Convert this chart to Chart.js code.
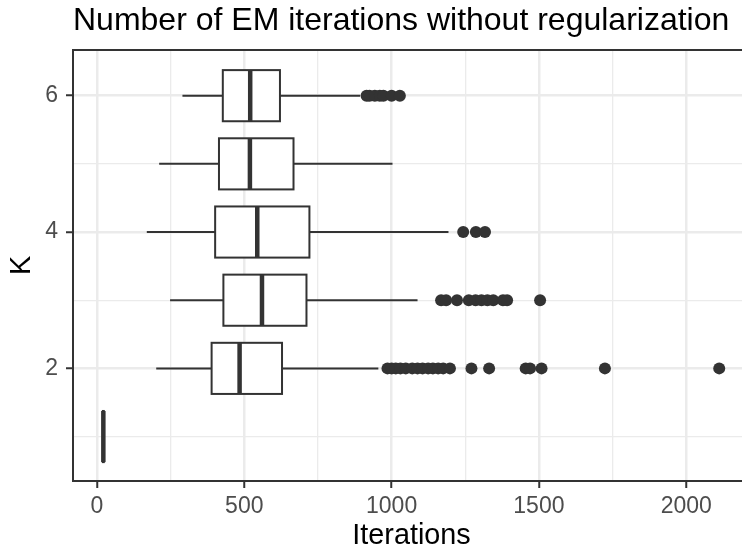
<!DOCTYPE html>
<html>
<head>
<meta charset="utf-8">
<script src="https://cdn.jsdelivr.net/npm/chart.js@4/dist/chart.umd.min.js"></script>
<style>
  html, body { margin: 0; padding: 0; background: #fff; }
  #wrap { width: 742px; height: 550px; overflow: hidden; }
</style>
</head>
<body>
<div id="wrap"><canvas id="grafico" width="760" height="550"></canvas></div>
<script>
// valores (K no eixo y, iteracoes no eixo x)
const kValues = [1, 2, 3, 4, 5, 6];
const whiskerLow = [20, 201, 248, 169, 211, 290];
const q1 = [20, 389, 429, 401, 414, 427];
const median = [21.5, 484, 560, 544, 519, 520];
const q3 = [23, 628, 711, 721, 667, 621];
const whiskerHigh = [23, 955, 1088, 1193, 1003, 893];

const outliersK2 = [986, 1000, 1014, 1030, 1048, 1070, 1088, 1105, 1124, 1140, 1158, 1175, 1198, 1271, 1331, 1455, 1470, 1509, 1724, 2112];
const outliersK3 = [1168, 1185, 1222, 1262, 1285, 1305, 1325, 1345, 1378, 1392, 1504];
const outliersK4 = [1243, 1286, 1317];
const outliersK6 = [915, 925, 943, 960, 972, 1000, 1028];

const xTicks = [0, 250, 500, 750, 1000, 1250, 1500, 1750, 2000];
const xMajor = [0, 500, 1000, 1500, 2000];
const yTicks = [1, 2, 3, 4, 5, 6];
const yMajor = [2, 4, 6];

const titleText = "Number of EM iterations without regularization";
const fontFamily = "'Liberation Sans', Arial, Helvetica, sans-serif";
const dark = "#333333";
const gridColor = "#EBEBEB";

const points = [];
[[2, outliersK2], [3, outliersK3], [4, outliersK4], [6, outliersK6]].forEach(function (pair) {
  pair[1].forEach(function (v) { points.push({ x: v, y: pair[0] }); });
});

// caixas desenhadas com as escalas do Chart.js
const boxPlugin = {
  id: "boxes",
  beforeDatasetsDraw(chart) {
    const ctx = chart.ctx;
    const xs = chart.scales.x, ys = chart.scales.y;
    ctx.save();
    ctx.strokeStyle = dark;
    kValues.forEach(function (k, i) {
      const yc = ys.getPixelForValue(k);
      const half = Math.abs(ys.getPixelForValue(k + 0.375) - yc);
      const xl = xs.getPixelForValue(q1[i]);
      const xr = xs.getPixelForValue(q3[i]);
      // bigodes
      ctx.lineWidth = 2;
      ctx.beginPath();
      ctx.moveTo(xs.getPixelForValue(whiskerLow[i]), yc);
      ctx.lineTo(xl, yc);
      ctx.moveTo(xr, yc);
      ctx.lineTo(xs.getPixelForValue(whiskerHigh[i]), yc);
      ctx.stroke();
      // caixa
      ctx.fillStyle = "#ffffff";
      ctx.fillRect(xl, yc - half, xr - xl, 2 * half);
      ctx.strokeRect(xl, yc - half, xr - xl, 2 * half);
      // mediana
      const xm = xs.getPixelForValue(median[i]);
      ctx.lineWidth = 4.5;
      ctx.beginPath();
      ctx.moveTo(xm, yc - half);
      ctx.lineTo(xm, yc + half);
      ctx.stroke();
    });
    ctx.restore();
  },
  afterDatasetsDraw(chart) {
    const ctx = chart.ctx;
    const a = chart.chartArea;
    ctx.save();
    ctx.strokeStyle = dark;
    ctx.lineWidth = 2;
    ctx.strokeRect(a.left, a.top, a.right - a.left, a.bottom - a.top);
    // titulo alinhado com o painel
    ctx.fillStyle = "#000000";
    ctx.font = "32px " + fontFamily;
    ctx.textAlign = "left";
    ctx.textBaseline = "alphabetic";
    ctx.fillText(titleText, a.left, 30);
    ctx.restore();
  }
};

function isMajor(list, v) { return list.indexOf(v) !== -1; }

new Chart(document.getElementById("grafico").getContext("2d"), {
  type: "scatter",
  data: {
    datasets: [{
      data: points,
      pointRadius: 6,
      pointHoverRadius: 6,
      backgroundColor: dark,
      borderWidth: 0
    }]
  },
  options: {
    responsive: false,
    animation: false,
    events: [],
    layout: { padding: { top: 50, right: 10, bottom: 0, left: 0 } },
    plugins: { legend: { display: false }, tooltip: { enabled: false }, title: { display: false } },
    scales: {
      x: {
        type: "linear",
        min: -81.5,
        max: 2216.5,
        afterBuildTicks: function (s) { s.ticks = xTicks.map(function (v) { return { value: v }; }); },
        afterFit: function (s) { s.height = 69; },
        border: { display: false },
        grid: {
          color: gridColor,
          lineWidth: function (c) { return isMajor(xMajor, c.tick && c.tick.value) ? 2.5 : 1.3; },
          tickColor: function (c) { return isMajor(xMajor, c.tick && c.tick.value) ? dark : "rgba(0,0,0,0)"; },
          tickWidth: 2,
          tickLength: 7
        },
        ticks: {
          autoSkip: false,
          maxRotation: 0,
          padding: 5,
          color: "#4D4D4D",
          font: { family: fontFamily, size: 23 },
          callback: function (v) { return isMajor(xMajor, v) ? String(v) : ""; }
        },
        title: {
          display: true,
          text: "Iterations",
          color: "#000000",
          padding: { top: 0, bottom: 0 },
          font: { family: fontFamily, size: 28.8, lineHeight: 1 }
        }
      },
      y: {
        type: "linear",
        min: 0.348,
        max: 6.67,
        afterBuildTicks: function (s) { s.ticks = yTicks.map(function (v) { return { value: v }; }); },
        afterFit: function (s) { s.width = 73; },
        border: { display: false },
        grid: {
          color: gridColor,
          lineWidth: function (c) { return isMajor(yMajor, c.tick && c.tick.value) ? 2.5 : 1.3; },
          tickColor: function (c) { return isMajor(yMajor, c.tick && c.tick.value) ? dark : "rgba(0,0,0,0)"; },
          tickWidth: 2,
          tickLength: 7
        },
        ticks: {
          autoSkip: false,
          padding: 8,
          color: "#4D4D4D",
          font: { family: fontFamily, size: 23 },
          callback: function (v) { return isMajor(yMajor, v) ? String(v) : ""; }
        },
        title: {
          display: true,
          text: "K",
          color: "#000000",
          padding: { top: 8, bottom: 0 },
          font: { family: fontFamily, size: 28.8, lineHeight: 1 }
        }
      }
    }
  },
  plugins: [boxPlugin]
});
</script>
</body>
</html>
